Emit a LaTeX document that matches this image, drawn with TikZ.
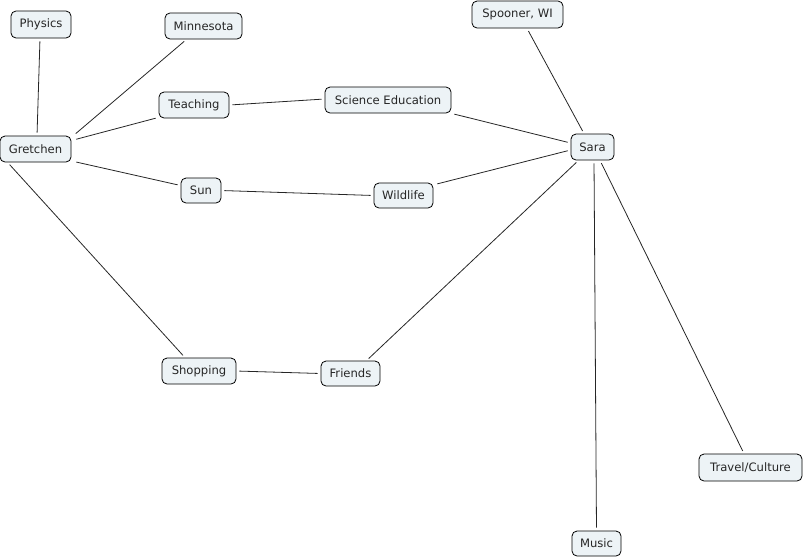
\documentclass[tikz,border=0pt]{standalone}
\usepackage{fontspec}
\setmainfont{DejaVu Sans}
\usetikzlibrary{calc}
\definecolor{boxfill}{RGB}{237,243,246}
\tikzset{
  concept/.style={draw=black, line width=0.8pt, fill=boxfill, rounded corners=5pt,
    inner sep=0pt, minimum height=26pt, font=\fontsize{11.6}{13}\selectfont, text=black!85},
  link/.style={draw=black!85, line width=0.8pt, shorten >=3pt, shorten <=3pt}
}
\begin{document}
\begin{tikzpicture}[x=1pt,y=-1pt]
\useasboundingbox (0,0) rectangle (805,558);
\node[concept, minimum width=60pt, minimum height=27pt] (physics) at (41,24.5) {Physics};
\node[concept, minimum width=77pt] (minnesota) at (203.5,26) {Minnesota};
\node[concept, minimum width=70pt] (teaching) at (194,105) {Teaching};
\node[concept, minimum width=126pt] (scied) at (388,100) {Science Education};
\node[concept, minimum width=71pt] (gretchen) at (35.5,149) {Gretchen};
\node[concept, minimum width=40pt, minimum height=25pt] (sun) at (201,190.5) {Sun};
\node[concept, minimum width=59pt, minimum height=25pt] (wildlife) at (403.5,195.5) {Wildlife};
\node[concept, minimum width=91pt, minimum height=27pt] (spooner) at (517.5,14.5) {Spooner, WI};
\node[concept, minimum width=43pt] (sara) at (592.5,147) {Sara};
\node[concept, minimum width=74pt] (shopping) at (199,371) {Shopping};
\node[concept, minimum width=59pt, minimum height=25pt] (friends) at (350.5,373.5) {Friends};
\node[concept, minimum width=103pt, minimum height=27pt] (travel) at (750.5,467.5) {Travel/Culture};
\node[concept, minimum width=49pt, minimum height=25pt] (music) at (596.5,543.5) {Music};

\draw[link] ($(physics.south)+(-1,0)$) -- ($(gretchen.north)+(1.5,0)$);
\draw[link] ($(gretchen.north east)+(2,0)$) -- ($(minnesota.south)+(-17,0)$);
\draw[link] ($(gretchen.east)+(2,-9)$) -- ($(teaching.south west)+(0,-1)$);
\draw[link] (teaching.east) -- ($(scied.west)+(0,-1)$);
\draw[link] ($(scied.south east)+(0,0)$) -- ($(sara.west)+(0,-4)$);
\draw[link] ($(gretchen.south east)+(2,-1)$) -- ($(sun.west)+(0,-5)$);
\draw[link] (sun.east) -- (wildlife.west);
\draw[link] ($(wildlife.north east)+(1,2)$) -- ($(sara.west)+(0,3)$);
\draw[link] ($(gretchen.south west)+(8,0)$) -- ($(shopping.north)+(-14,0)$);
\draw[link] (shopping.east) -- (friends.west);
\draw[link] ($(friends.north)+(16,0)$) -- ($(sara.south)+(-14,0)$);
\draw[link] ($(sara.north)+(-8.5,0)$) -- ($(spooner.south)+(9.5,0)$);
\draw[link] ($(sara.south)+(1.5,0)$) -- (music.north);
\draw[link] ($(sara.south)+(7.5,0)$) -- ($(travel.north)+(-6.5,0)$);
\end{tikzpicture}
\end{document}
